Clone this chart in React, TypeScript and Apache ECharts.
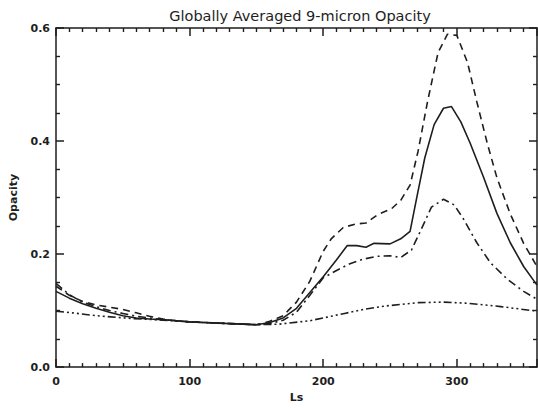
import React, { useEffect, useRef } from "react";
import * as echarts from "echarts";

const solidLs = [0, 10, 20, 30, 40, 50, 60, 70, 80, 90, 100, 110, 120, 130, 140, 150, 160, 170, 180, 190, 200, 210, 218, 225, 232, 238, 250, 258, 265, 270, 276, 283, 290, 296, 303, 310, 320, 330, 340, 350, 360];
const solidVal = [0.134, 0.122, 0.112, 0.104, 0.097, 0.091, 0.087, 0.085, 0.084, 0.082, 0.080, 0.079, 0.078, 0.077, 0.076, 0.075, 0.079, 0.087, 0.104, 0.132, 0.160, 0.190, 0.215, 0.215, 0.212, 0.219, 0.218, 0.227, 0.240, 0.300, 0.370, 0.429, 0.458, 0.461, 0.434, 0.396, 0.336, 0.272, 0.220, 0.178, 0.145];

const dashLs = [0, 10, 20, 30, 40, 50, 60, 70, 80, 90, 100, 110, 120, 130, 140, 150, 160, 170, 180, 190, 200, 206, 215, 224, 232, 241, 251, 258, 265, 271, 278, 286, 293, 300, 308, 315, 323, 330, 340, 350, 360];
const dashVal = [0.143, 0.127, 0.116, 0.110, 0.106, 0.102, 0.096, 0.090, 0.085, 0.082, 0.080, 0.079, 0.078, 0.077, 0.076, 0.075, 0.081, 0.091, 0.115, 0.152, 0.205, 0.227, 0.247, 0.253, 0.255, 0.270, 0.280, 0.295, 0.322, 0.382, 0.469, 0.557, 0.589, 0.587, 0.539, 0.469, 0.394, 0.335, 0.271, 0.219, 0.178];

const dashDotLs = [0, 10, 20, 30, 40, 50, 60, 70, 80, 90, 100, 110, 120, 130, 140, 150, 160, 170, 180, 190, 200, 210, 220, 230, 240, 250, 258, 266, 273, 281, 290, 298, 305, 315, 325, 338, 350, 360];
const dashDotVal = [0.148, 0.128, 0.115, 0.107, 0.100, 0.095, 0.090, 0.087, 0.084, 0.082, 0.080, 0.079, 0.078, 0.077, 0.076, 0.075, 0.077, 0.083, 0.097, 0.127, 0.158, 0.171, 0.183, 0.191, 0.196, 0.197, 0.194, 0.207, 0.242, 0.283, 0.297, 0.287, 0.262, 0.220, 0.185, 0.155, 0.134, 0.120];

const tripleLs = [0, 12, 30, 57, 80, 100, 120, 140, 150, 167, 190, 216, 230, 246, 271, 290, 308, 333, 360];
const tripleVal = [0.099, 0.096, 0.091, 0.086, 0.083, 0.080, 0.078, 0.076, 0.075, 0.076, 0.082, 0.095, 0.102, 0.108, 0.114, 0.115, 0.113, 0.107, 0.099];

const pairs = (xs: number[], ys: number[]) => xs.map((x, i) => [x, ys[i]]);

const INK = "#1e1e1e";
const FONT = "DejaVu Sans";

const makeX = (position: string) => ({
  type: "value",
  position,
  min: 0,
  max: 360,
  interval: 100,
  axisLine: { show: true, onZero: false, lineStyle: { color: INK, width: 1.5 } },
  axisTick: { show: true, inside: true, length: 8, lineStyle: { color: INK, width: 1.5 } },
  minorTick: { show: true, splitNumber: 10, length: 4, lineStyle: { color: INK, width: 1.4 } },
  splitLine: { show: false },
  minorSplitLine: { show: false },
});

const makeY = (position: string) => ({
  type: "value",
  position,
  min: 0,
  max: 0.6,
  interval: 0.2,
  axisLine: { show: true, onZero: false, lineStyle: { color: INK, width: 1.5 } },
  axisTick: { show: true, inside: true, length: 8, lineStyle: { color: INK, width: 1.5 } },
  minorTick: { show: true, splitNumber: 4, length: 4, lineStyle: { color: INK, width: 1.4 } },
  splitLine: { show: false },
  minorSplitLine: { show: false },
});

export default function App() {
  const ref = useRef<HTMLDivElement>(null);
  useEffect(() => {
    if (!ref.current) return;
    const chart = echarts.init(ref.current, undefined, { renderer: "svg" });
    const lineSeries = (data: number[][], type: any) => ({
      type: "line",
      data,
      showSymbol: false,
      symbol: "none",
      smooth: false,
      lineStyle: { color: INK, width: 1.6, type },
    });
    chart.setOption({
      animation: false,
      backgroundColor: "#ffffff",
      title: {
        text: "Globally Averaged 9-micron Opacity",
        left: 295,
        top: 3,
        textAlign: "center",
        textStyle: { fontFamily: FONT, fontSize: 14.5, fontWeight: "normal", color: INK },
      },
      grid: { left: 53, right: 1, top: 28, bottom: 36, containLabel: false },
      xAxis: [
        {
          ...makeX("bottom"),
          name: "Ls",
          nameLocation: "middle",
          nameGap: 22,
          nameTextStyle: { fontFamily: FONT, fontSize: 11, fontWeight: "bold", color: INK },
          axisLabel: {
            fontFamily: FONT,
            fontSize: 11,
            fontWeight: "bold",
            color: INK,
            margin: 9,
            showMaxLabel: false,
            formatter: (v: number) => (v > 300 ? "" : String(v)),
          },
        },
        { ...makeX("top"), axisLabel: { show: false } },
      ],
      yAxis: [
        {
          ...makeY("left"),
          name: "Opacity",
          nameLocation: "middle",
          nameGap: 37,
          nameRotate: 90,
          nameTextStyle: { fontFamily: FONT, fontSize: 11, fontWeight: "bold", color: INK },
          axisLabel: {
            fontFamily: FONT,
            fontSize: 11,
            fontWeight: "bold",
            color: INK,
            margin: 6,
            formatter: (v: number) => v.toFixed(1),
          },
        },
        { ...makeY("right"), axisLabel: { show: false } },
      ],
      series: [
        lineSeries(pairs(solidLs, solidVal), "solid"),
        lineSeries(pairs(dashLs, dashVal), [7, 5]),
        lineSeries(pairs(dashDotLs, dashDotVal), [8, 4, 2, 4]),
        lineSeries(pairs(tripleLs, tripleVal), [8, 3, 2, 3, 2, 3, 2, 3]),
      ],
    });
    return () => chart.dispose();
  }, []);
  return (
    <div
      ref={ref}
      style={{ position: "fixed", left: 0, top: 0, width: 538, height: 408 }}
    />
  );
}
